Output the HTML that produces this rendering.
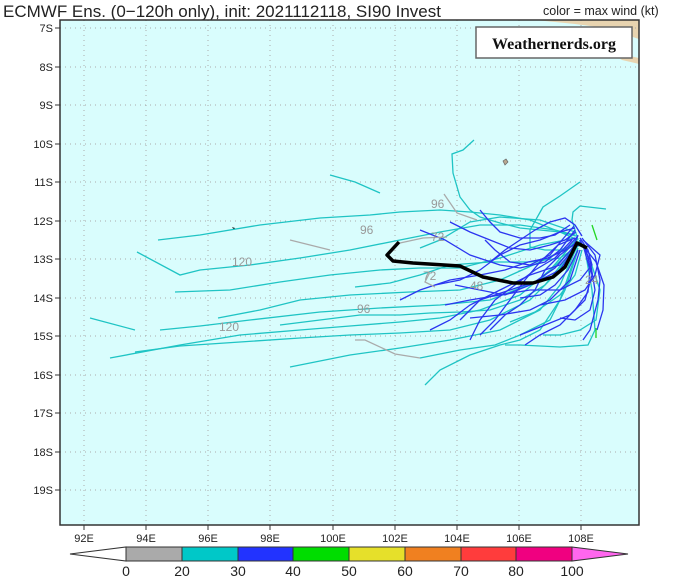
<!DOCTYPE html>
<html><head><meta charset="utf-8"><style>
body{margin:0;background:#fff;width:699px;height:578px;overflow:hidden}
svg{display:block;font-family:"Liberation Sans",sans-serif}
</style></head><body>
<svg width="699" height="578" viewBox="0 0 699 578">
<text x="3" y="17" font-size="17" fill="#222">ECMWF Ens. (0−120h only), init: 2021112118, SI90 Invest</text>
<text x="543" y="15" font-size="12.5" fill="#222">color = max wind (kt)</text>
<rect x="60" y="20" width="579" height="505" fill="#d9fdfd"/>
<polygon points="535,20 555,22 575,24 598,27 620,33 639,39 639,20" fill="#e8d4b0"/>
<polygon points="610,52 625,55 639,58 639,64 622,60" fill="#e8d4b0"/>
<g stroke="#aaa" stroke-width="1" stroke-dasharray="1,4">
<line x1="84" y1="20" x2="84" y2="525"/><line x1="146" y1="20" x2="146" y2="525"/><line x1="208" y1="20" x2="208" y2="525"/><line x1="270" y1="20" x2="270" y2="525"/><line x1="333" y1="20" x2="333" y2="525"/><line x1="395" y1="20" x2="395" y2="525"/><line x1="457" y1="20" x2="457" y2="525"/><line x1="519" y1="20" x2="519" y2="525"/><line x1="581" y1="20" x2="581" y2="525"/>
<line x1="60" y1="28" x2="639" y2="28"/><line x1="60" y1="67" x2="639" y2="67"/><line x1="60" y1="105" x2="639" y2="105"/><line x1="60" y1="144" x2="639" y2="144"/><line x1="60" y1="182" x2="639" y2="182"/><line x1="60" y1="221" x2="639" y2="221"/><line x1="60" y1="259" x2="639" y2="259"/><line x1="60" y1="298" x2="639" y2="298"/><line x1="60" y1="336" x2="639" y2="336"/><line x1="60" y1="375" x2="639" y2="375"/><line x1="60" y1="413" x2="639" y2="413"/><line x1="60" y1="452" x2="639" y2="452"/><line x1="60" y1="490" x2="639" y2="490"/>
</g>
<rect x="476" y="27" width="156" height="31" fill="#fff" stroke="#666" stroke-width="1.5"/>
<text x="554" y="49" font-size="16" font-family="Liberation Serif,serif" font-weight="bold" text-anchor="middle" fill="#111">Weathernerds.org</text>
<path d="M503,161 l3,-2 2,3 -3,3z" fill="#b8a890" stroke="#666" stroke-width="0.7"/>
<path d="M232,227 l3,1 -1,2z" fill="#222"/>
<g fill="none" stroke="#1fc4c4" stroke-width="1.3">
<polyline points="575,238 540,245 500,258 460,268 420,268 380,270 330,275 280,282 230,290 175,292"/>
<polyline points="578,242 540,262 500,280 460,290 410,292 350,295 300,300 260,310 218,318"/>
<polyline points="576,240 550,270 520,295 480,310 440,318 400,322 350,326 300,330 240,335 180,345 110,358"/>
<polyline points="578,245 555,275 530,300 490,320 450,330 400,333 350,335 300,338 240,342 180,346 135,352"/>
<polyline points="580,240 560,285 540,310 500,330 450,340 400,348 350,355 290,367"/>
<polyline points="576,236 560,232 530,220 500,215 470,212 440,210 400,212 370,215 320,218 260,225 200,235 158,240"/>
<polyline points="575,235 555,230 520,225 480,225 440,232 400,240 350,250 300,258 250,265 200,270 180,275 137,252"/>
<polyline points="578,244 540,280 490,300 440,305 380,308 320,312 250,320 200,326 160,330"/>
<polyline points="90,318 135,330"/>
<polyline points="578,248 560,300 540,330 520,340 500,345 470,355 440,370 425,385"/>
<polyline points="578,240 560,232 540,230 520,228 500,223 490,220 480,217 470,210 460,197 453,173 452,154 463,150 474,140"/>
<polyline points="575,245 560,250 545,250 530,247 530,230 543,207 560,196 580,182"/>
<polyline points="578,240 572,220 573,212 580,206 606,209"/>
<polyline points="578,250 565,290 550,320 520,335 495,345 460,350 420,358"/>
<polyline points="578,238 565,260 545,285 520,300 490,310 460,312 430,313 400,315 360,315 320,320 280,325"/>
<polyline points="590,260 600,290 596,320 580,330 560,335 543,335"/>
<polyline points="585,250 592,290 595,330 588,345 560,347 520,345 505,345"/>
<polyline points="330,175 355,182 380,193"/>
<polyline points="580,245 560,258 530,262 490,262 450,265 420,275 390,283 355,287"/>
<polyline points="575,232 540,220 500,217 470,222 440,240 420,248"/>
<polyline points="582,250 575,275 560,295 535,312 510,322"/>
</g>
<g fill="none" stroke="#2b35f0" stroke-width="1.3">
<polyline points="578,235 570,255 560,270 540,280 510,290 480,300 460,320"/>
<polyline points="575,230 560,250 545,262 520,268 500,265 470,255 445,240 420,230"/>
<polyline points="580,240 590,260 595,290 590,310 575,320 560,318"/>
<polyline points="582,238 595,255 600,280 598,300 590,330 583,340"/>
<polyline points="576,232 565,240 550,245 530,250 510,248 490,240 470,232 450,222"/>
<polyline points="578,245 560,265 530,275 500,290 470,305 450,320 430,330"/>
<polyline points="580,250 570,280 550,300 530,310 500,315 470,318"/>
<polyline points="575,228 560,232 540,240 520,245 500,255 480,270 460,280 435,285"/>
<polyline points="585,245 592,275 585,300 570,315 545,325 520,335"/>
<polyline points="572,240 555,258 535,270 515,285 495,300 480,320 470,340"/>
<polyline points="580,242 596,262 604,285 603,310 597,330"/>
<polyline points="578,236 565,250 548,258 528,262 505,270 480,275 450,280 420,290 400,300"/>
<polyline points="570,225 555,235 540,238 520,238 500,232 490,222 480,210"/>
<polyline points="583,240 600,255 595,275 585,290 565,300 540,305"/>
<polyline points="578,250 568,270 555,285 540,295 520,298"/>
<polyline points="575,238 558,245 540,262 525,280 510,300 495,320 480,335"/>
<polyline points="580,238 588,250 592,265 580,280 560,290 530,290 500,295 470,300 445,305"/>
<polyline points="577,242 560,255 545,270 535,290 520,305 505,315 490,330"/>
<polyline points="582,236 575,225 565,218 550,222 535,230 520,240 505,250 490,262"/>
<polyline points="574,226 562,240 550,255 530,265 510,262 495,250 485,240"/>
<polyline points="583,245 590,270 588,292 575,310 560,325 540,335 525,345"/>
<polyline points="576,244 555,268 530,285 505,295 480,290 455,285"/>
</g>
<g fill="none" stroke="#aaa" stroke-width="1.3">
<polyline points="444,194 457,213 477,220"/>
<polyline points="400,243 423,238 447,237"/>
<polyline points="290,240 330,250"/>
<polyline points="420,358 395,354 365,340 355,340"/>
<polyline points="430,272 425,282 435,287"/>
</g>
<g fill="none" stroke="#22d622" stroke-width="1.3"><polyline points="592,225 597,240"/><polyline points="596,328 596,338"/></g>
<polyline points="399,242 387,255 393,261 413,263 460,266 483,277 513,283 533,283 553,277 565,267 572,253 577,243 587,248" fill="none" stroke="#000" stroke-width="3.5" stroke-linejoin="round"/>
<g font-size="12" fill="#999">
<text x="360" y="234">96</text><text x="232" y="266">120</text><text x="219" y="331">120</text><text x="357" y="313">96</text><text x="431" y="208">96</text><text x="431" y="241">72</text><text x="423" y="280">72</text><text x="470" y="290">48</text><text x="585" y="284">24</text>
</g>
<rect x="60" y="20" width="579" height="505" fill="none" stroke="#333" stroke-width="1.5"/>
<g stroke="#333" stroke-width="1">
<line x1="55" y1="28" x2="60" y2="28"/><line x1="55" y1="67" x2="60" y2="67"/><line x1="55" y1="105" x2="60" y2="105"/><line x1="55" y1="144" x2="60" y2="144"/><line x1="55" y1="182" x2="60" y2="182"/><line x1="55" y1="221" x2="60" y2="221"/><line x1="55" y1="259" x2="60" y2="259"/><line x1="55" y1="298" x2="60" y2="298"/><line x1="55" y1="336" x2="60" y2="336"/><line x1="55" y1="375" x2="60" y2="375"/><line x1="55" y1="413" x2="60" y2="413"/><line x1="55" y1="452" x2="60" y2="452"/><line x1="55" y1="490" x2="60" y2="490"/>
<line x1="84" y1="525" x2="84" y2="530"/><line x1="146" y1="525" x2="146" y2="530"/><line x1="208" y1="525" x2="208" y2="530"/><line x1="270" y1="525" x2="270" y2="530"/><line x1="333" y1="525" x2="333" y2="530"/><line x1="395" y1="525" x2="395" y2="530"/><line x1="457" y1="525" x2="457" y2="530"/><line x1="519" y1="525" x2="519" y2="530"/><line x1="581" y1="525" x2="581" y2="530"/>
</g>
<g font-size="11" fill="#222" text-anchor="end">
<text x="53" y="32">7S</text><text x="53" y="71">8S</text><text x="53" y="109">9S</text><text x="53" y="148">10S</text><text x="53" y="186">11S</text><text x="53" y="225">12S</text><text x="53" y="263">13S</text><text x="53" y="302">14S</text><text x="53" y="340">15S</text><text x="53" y="379">16S</text><text x="53" y="417">17S</text><text x="53" y="456">18S</text><text x="53" y="494">19S</text>
</g>
<g font-size="11" fill="#222" text-anchor="middle">
<text x="84" y="542">92E</text><text x="146" y="542">94E</text><text x="208" y="542">96E</text><text x="270" y="542">98E</text><text x="333" y="542">100E</text><text x="395" y="542">102E</text><text x="457" y="542">104E</text><text x="519" y="542">106E</text><text x="581" y="542">108E</text>
</g>
<g stroke="#333" stroke-width="1">
<polygon points="70,554 126,547 126,561" fill="#fff"/>
<rect x="126" y="547" width="56" height="14" fill="#aaaaaa"/>
<rect x="182" y="547" width="56" height="14" fill="#00c8c8"/>
<rect x="238" y="547" width="55" height="14" fill="#2233ff"/>
<rect x="293" y="547" width="56" height="14" fill="#00dd00"/>
<rect x="349" y="547" width="56" height="14" fill="#e6e02a"/>
<rect x="405" y="547" width="56" height="14" fill="#f08020"/>
<rect x="461" y="547" width="55" height="14" fill="#ff3c3c"/>
<rect x="516" y="547" width="56" height="14" fill="#f00080"/>
<polygon points="572,547 628,554 572,561" fill="#ff66ee"/>
</g>
<g font-size="14" fill="#222" text-anchor="middle">
<text x="126" y="576">0</text><text x="182" y="576">20</text><text x="238" y="576">30</text><text x="293" y="576">40</text><text x="349" y="576">50</text><text x="405" y="576">60</text><text x="461" y="576">70</text><text x="516" y="576">80</text><text x="572" y="576">100</text>
</g>
</svg>
</body></html>
